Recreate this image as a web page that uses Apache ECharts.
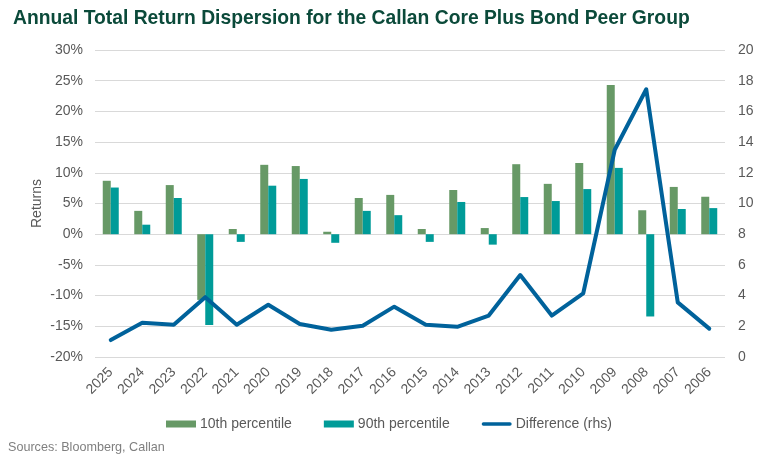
<!DOCTYPE html>
<html><head><meta charset="utf-8">
<script src="https://cdn.jsdelivr.net/npm/echarts@6/dist/echarts.min.js"></script>
<style>html,body{margin:0;padding:0;background:#fff}#c{width:766px;height:462px}</style>
</head><body><div id="c"></div>
<script>
const categories = ['2025','2024','2023','2022','2021','2020','2019','2018','2017','2016','2015','2014','2013','2012','2011','2010','2009','2008','2007','2006'];
const p10 = [8.7,3.8,8.0,-10.7,0.85,11.3,11.1,0.4,5.9,6.4,0.85,7.2,1.0,11.4,8.2,11.6,24.3,3.9,7.7,6.1];
const p90 = [7.6,1.55,5.9,-14.8,-1.25,7.9,9.0,-1.4,3.8,3.1,-1.25,5.25,-1.7,6.05,5.4,7.35,10.8,-13.4,4.1,4.25];
const diff = [1.1,2.23,2.1,3.9,2.1,3.4,2.15,1.78,2.04,3.28,2.1,1.97,2.7,5.34,2.7,4.15,13.5,17.44,3.56,1.85];
const leftTicks = {min:-20,max:30,interval:5};
const rightTicks = {min:0,max:20,interval:2};

const chart = echarts.init(document.getElementById('c'));
const gray = '#595959';
const font = 'Liberation Sans, Arial, sans-serif';
const lineIcon = 'path://M2,0 L33,0 A2,2 0 0 1 33,4 L2,4 A2,2 0 0 1 2,0 Z';
chart.setOption({
  animation:false,
  textStyle:{fontFamily:font},
  title:{text:'Annual Total Return Dispersion for the Callan Core Plus Bond Peer Group',left:8,top:4,
    textStyle:{fontFamily:font,fontSize:19.3,fontWeight:'bold',color:'#0b4a3a'}},
  grid:{left:95,right:41,top:50,bottom:105},
  legend:{top:412,left:161,itemGap:32,itemWidth:30,itemHeight:7,
    textStyle:{fontFamily:font,fontSize:14,color:gray,padding:[0,0,0,-1]},
    data:[{name:'10th percentile',icon:'rect'},{name:'90th percentile',icon:'rect'},{name:'Difference (rhs)',icon:lineIcon}]},
  graphic:[{type:'text',left:8,top:441,style:{text:'Sources: Bloomberg, Callan',fontFamily:font,fontSize:12.6,fill:'#7f7f7f'}}],
  xAxis:{type:'category',data:categories,
    axisLine:{show:false},axisTick:{show:false},
    axisLabel:{rotate:45,color:gray,fontSize:14,margin:13,interval:0,fontFamily:font}},
  yAxis:[
    {type:'value',min:leftTicks.min,max:leftTicks.max,interval:leftTicks.interval,
     name:'Returns',nameLocation:'middle',nameGap:51,nameMoveOverlap:false,nameTextStyle:{color:gray,fontSize:14,fontFamily:font},
     axisLabel:{formatter:v=>v+'%',color:gray,fontSize:14,margin:12,fontFamily:font},
     splitLine:{lineStyle:{color:'#d9d9d9',width:1}},axisLine:{show:false},axisTick:{show:false}},
    {type:'value',min:rightTicks.min,max:rightTicks.max,interval:rightTicks.interval,position:'right',
     axisLabel:{color:gray,fontSize:14,margin:13,fontFamily:font},
     splitLine:{show:false},axisLine:{show:false},axisTick:{show:false}}
  ],
  series:[
    {name:'10th percentile',type:'bar',data:p10,itemStyle:{color:'#679966'},barWidth:8,barGap:'0%'},
    {name:'90th percentile',type:'bar',data:p90,itemStyle:{color:'#009b98'},barWidth:8,barGap:'0%'},
    {name:'Difference (rhs)',type:'line',yAxisIndex:1,data:diff,symbol:'none',
     lineStyle:{color:'#00629b',width:4,cap:'round',join:'round'},itemStyle:{color:'#00629b'},z:5}
  ]
});
</script></body></html>
